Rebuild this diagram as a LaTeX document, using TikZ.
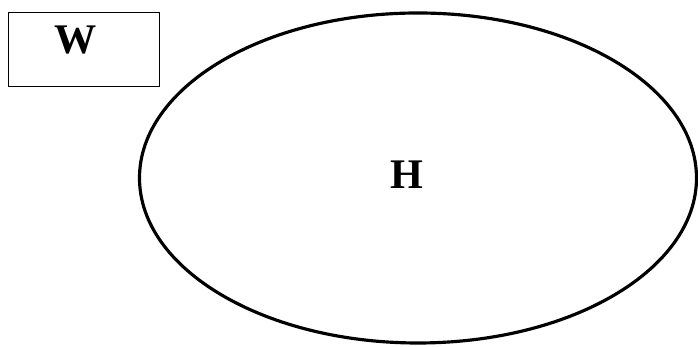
\documentclass[tikz,border=0pt]{standalone}
\usepackage{fontspec}
\setmainfont{Liberation Serif}
\usetikzlibrary{shapes.geometric}
\tikzset{
 lbl/.style={font=\fontsize{24}{28}\selectfont\bfseries,inner sep=0pt},
 setbox/.style={draw,line width=0.6pt,minimum width=3.02cm,minimum height=1.48cm},
 setoval/.style={draw,ellipse,line width=1.8pt,minimum width=11.14cm,minimum height=6.6cm}
}
\begin{document}
\begin{tikzpicture}
 \useasboundingbox (0,0) rectangle (13.96,6.94);
 % universe box
 \node[setbox] (box) at (1.68,5.95) {};
 \node[lbl] (w) at (1.52,6.14) {W};
 % the big set
 \node[setoval] (oval) at (8.36,3.38) {};
 \node[lbl] (h) at (8.14,3.45) {H};
\end{tikzpicture}
\end{document}
